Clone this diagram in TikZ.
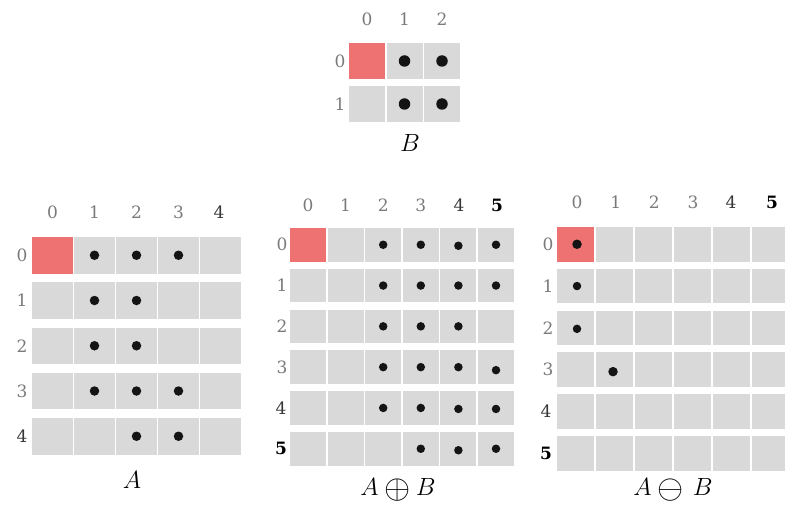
\documentclass[tikz,border=0pt]{standalone}
\usepackage{graphicx}
\usepackage{fontspec}
\newfontfamily\digitfont{DejaVu Serif}
\definecolor{cellgray}{HTML}{D9D9D9}
\definecolor{cellred}{HTML}{EF7272}
\definecolor{lblgray}{HTML}{7A7A7A}
\definecolor{lbldark}{HTML}{363636}
\tikzset{
  cell/.style={fill=cellgray, draw=none, inner sep=0pt},
  blob/.style={circle, fill=black!92, draw=none, inner sep=0pt, minimum size=#1},
  lbl/.style={inner sep=0pt, text=lblgray, font=\digitfont\fontsize{17}{20}\selectfont},
  lbldk/.style={lbl, text=lbldark},
  lblbf/.style={lbl, text=black, font=\digitfont\fontsize{17}{20}\selectfont\bfseries},
  setname/.style={inner sep=0pt, font=\fontsize{26}{30}\selectfont}
}
% name, x0, y0, colpitch, rowpitch, w, h, last col, last row
\newcommand{\mygrid}[9]{%
  \foreach \c in {0,...,#8}{\foreach \r in {0,...,#9}{
    \node[cell, minimum width=#6pt, minimum height=#7pt] (#1-\r-\c) at ({#2+#4*\c},{#3+#5*\r}) {};
  }}%
  \fill[cellred] (#1-0-0.south west) rectangle (#1-0-0.north east);
}
\newcommand{\bigop}[1]{\mathbin{\raisebox{-0.12em}{\scalebox{1.35}{$#1$}}}}
\begin{document}
\begin{tikzpicture}[x=1pt, y=-1pt]
\useasboundingbox (0,0) rectangle (785,508);
\begin{scope}
\clip (0,0) rectangle (785,508);
% ---------- B ----------
\mygrid{B}{367}{61}{37.5}{43}{36}{35.5}{2}{1}
\foreach \c/\x in {0/367,1/404.5,2/442} \node[lbl] (B-c\c) at (\x,19) {\c};
\foreach \r/\y in {0/61,1/104} \node[lbl] (B-r\r) at (340,\y) {\r};
\foreach \p in {0-1,0-2,1-1,1-2} \node[blob=11.5pt] at (B-\p) {};
\node[setname] (Blbl) at (410,143) {$B$};
% ---------- A ----------
\mygrid{A}{52.5}{255.25}{42}{45.25}{41}{36.5}{4}{4}
\foreach \c/\x in {0/52.5,1/94.5,2/136.5,3/178.5} \node[lbl] (A-c\c) at (\x,212) {\c};
\node[lbldk] (A-c4) at (219,212) {4};
\foreach \r/\y in {0/255.25,1/300.5,2/345.75,3/391} \node[lbl] (A-r\r) at (22,\y) {\r};
\node[lbldk] (A-r4) at (22,436.25) {4};
\foreach \p in {0-1,0-2,0-3,1-1,1-2,2-1,2-2,3-1,3-2,3-3,4-2,4-3} \node[blob=9.5pt] at (A-\p) {};
\node[setname] (Albl) at (132,480) {$A$};
% ---------- A (+) B ----------
\mygrid{P}{308}{244.75}{37.6}{40.8}{36}{33.5}{5}{5}
\foreach \c in {0,...,3} \node[lbl] (P-c\c) at ({308+37.6*\c},205) {\c};
\node[lbldk] (P-c4) at (459,205) {4};
\node[lblbf] (P-c5) at (497,205) {5};
\foreach \r in {0,...,3} \node[lbl] (P-r\r) at (282,{244.75+40.8*\r}) {\r};
\node[lbldk] (P-r4) at (281,408) {4};
\node[lblbf] (P-r5) at (281,448.75) {5};
\foreach \p in {0-2,0-3,1-2,1-3,1-4,1-5,2-2,2-3,2-4,3-2,3-3,3-4,4-2,4-3,5-3} \node[blob=8.5pt] at (P-\p) {};
\node[blob=8.5pt] at ([yshift=-1pt]P-0-4) {};
\node[blob=8.5pt] at (P-0-5) {};
\node[blob=8.5pt] at ([yshift=-3pt]P-3-5) {};
\node[blob=8.5pt] at ([yshift=-1pt]P-4-4) {};
\node[blob=8.5pt] at ([yshift=-1pt]P-4-5) {};
\node[blob=8.5pt] at ([yshift=-1.5pt]P-5-4) {};
\node[blob=8.5pt] at (P-5-5) {};
\node[setname] (Plbl) at (398,490) {$A \bigop{\oplus} B$};
% ---------- A (-) B ----------
\mygrid{M}{575.5}{244.25}{39}{41.8}{37}{34.5}{5}{5}
\foreach \c in {0,...,3} \node[lbl] (M-c\c) at ({577+38.7*\c},202) {\c};
\node[lbldk] (M-c4) at (731,202) {4};
\node[lblbf] (M-c5) at (772,202) {5};
\foreach \r in {0,...,3} \node[lbl] (M-r\r) at (548,{244.25+41.8*\r}) {\r};
\node[lbldk] (M-r4) at (546,411.5) {4};
\node[lblbf] (M-r5) at (546,453.3) {5};
\node[blob=9.5pt] at ([xshift=1.5pt]M-0-0) {};
\node[blob=8.5pt] at ([xshift=1.5pt]M-1-0) {};
\node[blob=8.5pt] at ([xshift=1.5pt,yshift=-1pt]M-2-0) {};
\node[blob=9.5pt] at ([xshift=-1.5pt,yshift=-2pt]M-3-1) {};
\node[setname] (Mlbl) at (673,490) {$A \bigop{\ominus}\, B$};
\end{scope}
\end{tikzpicture}
\end{document}
